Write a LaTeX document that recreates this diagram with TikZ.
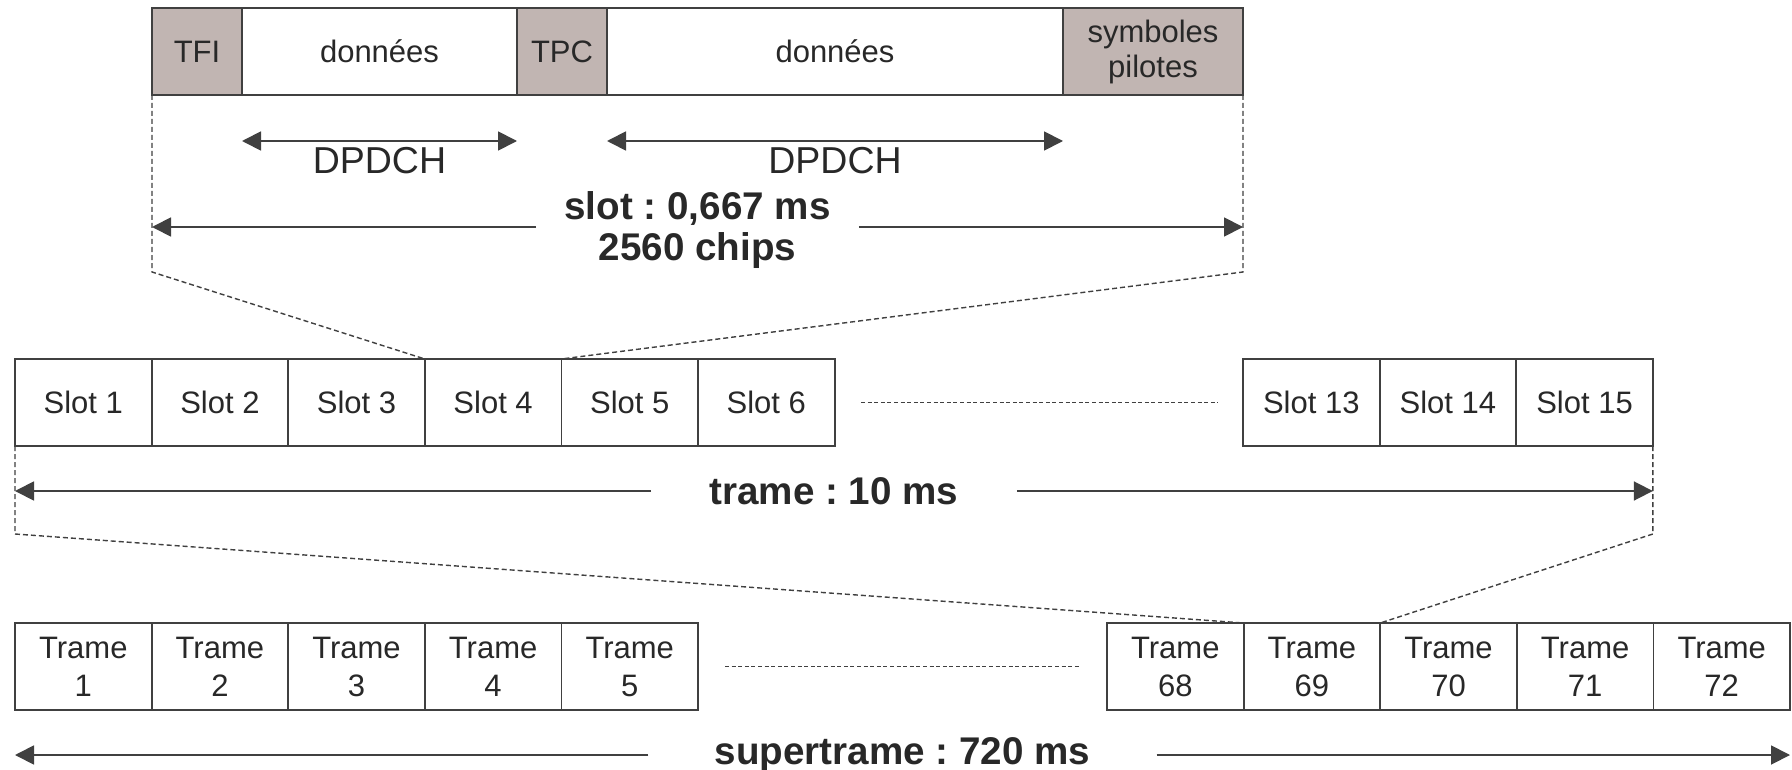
\documentclass[tikz,border=0pt]{standalone}
\usepackage{fontspec}
\setmainfont{Liberation Sans}
\usetikzlibrary{arrows.meta,calc}
\definecolor{ln}{RGB}{64,64,64}
\definecolor{hd}{RGB}{193,181,178}
\definecolor{tx}{RGB}{40,40,40}
\frenchspacing
\begin{document}
\begin{tikzpicture}[x=0.5pt,y=-0.5pt,
 cell/.style={draw=ln, line width=0.9pt, rectangle, inner sep=0pt, outer sep=0pt,
   minimum height=43.5pt, minimum width=68.3pt, anchor=north west, align=center, text=tx,
   font=\fontsize{15.5}{19}\selectfont},
 hdr/.style={cell, fill=hd},
 arr/.style={draw=ln, line width=0.9pt, -{Triangle[length=9.5pt,width=9.5pt]}},
 darr/.style={draw=ln, line width=0.9pt, {Triangle[length=9.5pt,width=9.5pt]}-{Triangle[length=9.5pt,width=9.5pt]}},
 guide/.style={draw=ln, line width=0.7pt, dash pattern=on 2.5pt off 1.5pt},
 sepline/.style={draw=ln, line width=0.6pt, dash pattern=on 2pt off 1.3pt},
 lbl/.style={text=tx, font=\bfseries\fontsize{19.3}{20.5}\selectfont, align=center, inner ysep=0pt},
 dlbl/.style={text=tx, font=\fontsize{18.75}{20}\selectfont, inner sep=0pt}]

\useasboundingbox[fill=white] (0,0) rectangle (1792,770);

% ---- slot structure
\node[hdr, minimum width=45pt] (tfi) at (152,8) {TFI};
\node[cell, minimum width=137.5pt] (d1) at (tfi.north east) {données};
\node[hdr, minimum width=45pt] (tpc) at (d1.north east) {TPC};
\node[cell, minimum width=228pt] (d2) at (tpc.north east) {données};
\node[hdr, minimum width=90pt, font=\fontsize{15.5}{17.5}\selectfont] (sp) at (d2.north east) {symboles\\pilotes};

\draw[darr] ([yshift=-23pt]d1.south west) -- ([yshift=-23pt]d1.south east);
\draw[darr] ([yshift=-23pt]d2.south west) -- ([yshift=-23pt]d2.south east);
\node[dlbl] (dp1) at ([yshift=-33pt]d1.south) {DPDCH};
\node[dlbl] (dp2) at ([yshift=-33pt]d2.south) {DPDCH};

\coordinate (sa) at ([yshift=-66pt]tfi.south west);
\coordinate (sb) at ([yshift=-66pt]sp.south east);
\node[lbl, inner xsep=14pt] (slotlbl) at ($(sa)!0.5!(sb)+(0,3)$) {slot : 0,667 ms\\2560 chips};
\draw[arr] (slotlbl.west |- sa) -- (sa);
\draw[arr] (slotlbl.east |- sb) -- (sb);

% ---- frame
\node[cell] (s1) at (15,359) {Slot 1};
\node[cell] (s2) at (s1.north east) {Slot 2};
\node[cell] (s3) at (s2.north east) {Slot 3};
\node[cell] (s4) at (s3.north east) {Slot 4};
\node[cell] (s5) at (s4.north east) {Slot 5};
\node[cell] (s6) at (s5.north east) {Slot 6};
\node[cell] (s13) at (1243,359) {Slot 13};
\node[cell] (s14) at (s13.north east) {Slot 14};
\node[cell] (s15) at (s14.north east) {Slot 15};
\draw[sepline] ([xshift=13.2pt]s6.east) -- ([xshift=-12.5pt]s13.west);

\draw[guide] (tfi.south west) -- ++(0,177) -- (s4.north west);
\draw[guide] (sp.south east) -- ++(0,177) -- (s5.north west);

\coordinate (ta) at ([yshift=-22.5pt]s1.south west);
\coordinate (tb) at ([yshift=-22.5pt]s15.south east);
\node[lbl, inner xsep=29pt] (tramelbl) at ($(ta)!0.5!(tb)$) {trame : 10 ms};
\draw[arr] (tramelbl.west) -- (ta);
\draw[arr] (tramelbl.east) -- (tb);

% ---- superframe
\node[cell] (t1) at (15,623) {Trame\\1};
\node[cell] (t2) at (t1.north east) {Trame\\2};
\node[cell] (t3) at (t2.north east) {Trame\\3};
\node[cell] (t4) at (t3.north east) {Trame\\4};
\node[cell] (t5) at (t4.north east) {Trame\\5};
\node[cell] (t68) at (1107,623) {Trame\\68};
\node[cell] (t69) at (t68.north east) {Trame\\69};
\node[cell] (t70) at (t69.north east) {Trame\\70};
\node[cell] (t71) at (t70.north east) {Trame\\71};
\node[cell] (t72) at (t71.north east) {Trame\\72};
\draw[sepline] ([xshift=13.5pt]t5.east) -- ([xshift=-13.5pt]t68.west);

\draw[guide] (s1.south west) -- ++(0,88) -- (t69.north west);
\draw[guide] (s15.south east) -- ++(0,88) -- (t70.north west);

\coordinate (ua) at ([yshift=-22.5pt]t1.south west);
\coordinate (ub) at ([yshift=-22.5pt]t72.south east);
\node[lbl, inner xsep=33pt] (superlbl) at ($(ua)!0.5!(ub)$) {supertrame : 720 ms};
\draw[arr] (superlbl.west |- ua) -- (ua);
\draw[arr] (superlbl.east |- ub) -- (ub);
\end{tikzpicture}
\end{document}
